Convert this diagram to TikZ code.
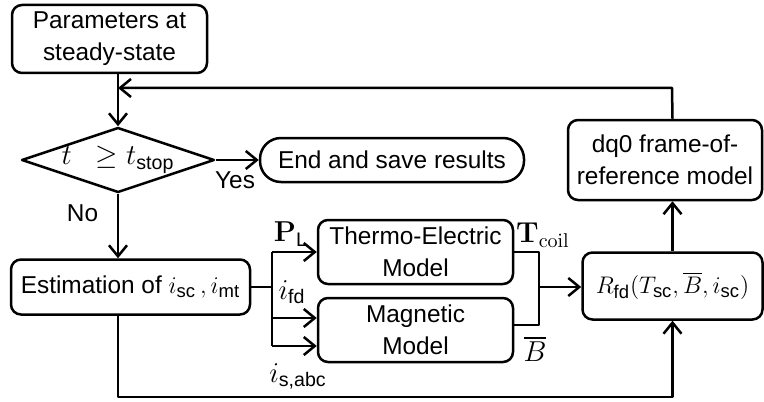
\documentclass[tikz,border=0pt]{standalone}
\usepackage{amsmath}
\usepackage[no-math]{fontspec}
\setmainfont{Liberation Sans}
\usetikzlibrary{shapes.geometric,arrows.meta}
\newcommand{\sigmath}[1]{{\fontsize{14}{16}\selectfont$#1$}}
\newcommand{\boxmath}[1]{{\fontsize{13.2}{16}\selectfont$#1$}}
\tikzset{
  blk/.style={draw, rounded corners=5pt, align=center, inner sep=2pt},
  dec/.style={draw, diamond, aspect=3, inner sep=0pt, minimum width=96pt, minimum height=32.5pt},
  term/.style={draw, rounded corners=10.5pt, minimum width=132pt, minimum height=22pt, inner sep=2pt},
  lbl/.style={inner sep=1pt}
}
\begin{document}
\begin{tikzpicture}[x=0.5pt, y=-0.5pt, line width=1.25pt, font=\fontsize{12.2}{16}\selectfont, line join=round, >={Straight Barb[length=5.5pt,width=9pt,line width=1.25pt]}]
	\useasboundingbox (0,0) rectangle (764,401);
	% blocks
	\node[blk, minimum width=97.5pt, minimum height=34pt] (Par) at (109.5,39) {Parameters at\\steady-state};
	\node[dec] (Dec) at (118,160) {\sigmath{t\;\;\geq t_{\text{stop}}}};
	\node[term] (End) at (392,160) {End and save results};
	\node[blk, minimum width=119.5pt, minimum height=27.5pt, inner sep=1pt] (Est) at (130.5,287) {Estimation of \boxmath{i_{\text{sc}}\,,i_{\text{mt}}}};
	\node[blk, minimum width=97.5pt, minimum height=32pt] (TE) at (415.5,252) {Thermo-Electric\\Model};
	\node[blk, minimum width=97.5pt, minimum height=32pt] (Mag) at (415.5,330) {Magnetic\\Model};
	\node[blk, minimum width=90pt, minimum height=33.5pt, inner sep=1pt] (R) at (672.5,286) {\boxmath{R_{\text{fd}}(T_{\text{sc}},\overline{B},i_{\text{sc}})}};
	\node[blk, minimum width=97pt, minimum height=40pt] (Dq) at (665,160) {dq0 frame-of-\\reference model};
	% helper points
	\coordinate (busT) at (272,252);
	\coordinate (busM) at (272,287);
	\coordinate (bus1) at (272,318);
	\coordinate (busB) at (272,346);
	\coordinate (outT) at (539,252);
	\coordinate (outM) at (539,287);
	\coordinate (outB) at (539,325);
	% flow
	\draw[->] (Par.south -| Dec.north)--(Dec.north);
	\draw[->] (Dec.east)--(End.west) node[pos=0.45, below=2pt]{Yes};
	\draw[->] (Dec.south)--(Dec.south |- Est.north) node[pos=0.3, left=6pt]{No};
	\draw (Est.east)--(busM) (busT)--(busB);
	\draw[->] (busT)--(TE.west);
	\draw[->] (bus1)--(Mag.west |- bus1);
	\draw[->] (busB)--(Mag.west |- busB);
	\draw (TE.east)--(outT)--(outB)--(Mag.east |- outB);
	\draw[->] (outM)--(R.west |- outM);
	\draw[->] (R.north)--(R.north |- Dq.south);
	\draw[->] (R.north |- Dq.north)--(672,88)--(118,88);
	\draw[->] (Est.south -| Dec.south)--(118,397)-|(R.south);
	% signal labels
	\node[lbl] (lP) at (291,234) {\sigmath{\mathbf{P}_{\text{L}}}};
	\node[lbl] (lfd) at (292,292) {\sigmath{i_{\text{fd}}}};
	\node[lbl] (labc) at (298,376) {\sigmath{i_{\text{s,abc}}}};
	\node[lbl] (lT) at (543,235) {\sigmath{\mathbf{T}_{\mathrm{coil}}}};
	\node[lbl] (lB) at (535,349) {\sigmath{\overline{B}}};
\end{tikzpicture}
\end{document}
